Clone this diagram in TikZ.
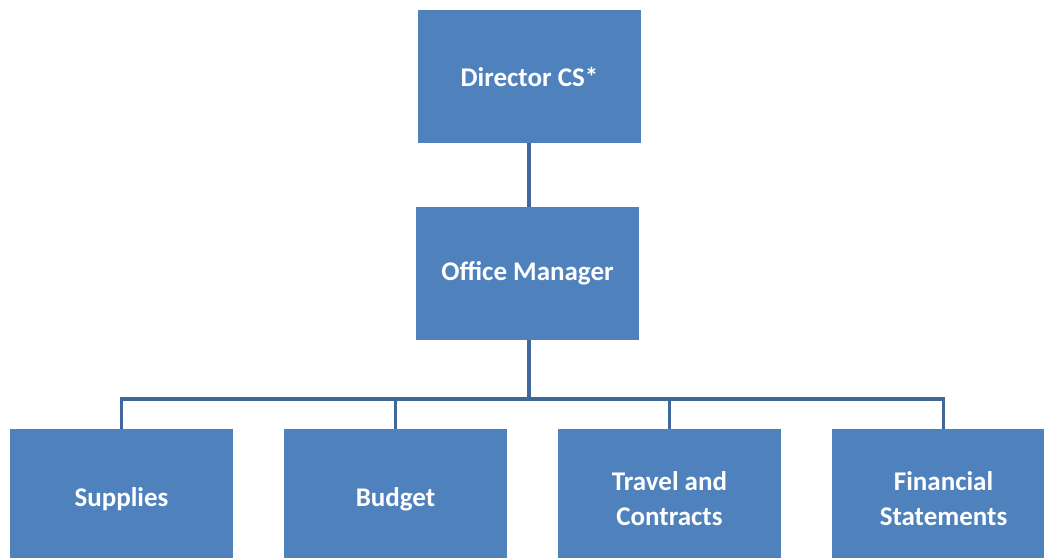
\documentclass[tikz,border=0pt]{standalone}
\usepackage{fontspec}
\setmainfont{Carlito}
\definecolor{boxblue}{HTML}{4F81BD}
\definecolor{lineblue}{HTML}{41689A}
\begin{document}
\begin{tikzpicture}[x=1pt,y=1pt,
  orgbox/.style={fill=boxblue, draw=none, minimum width=223pt, minimum height=133pt,
    text=white, font=\bfseries\fontsize{27}{35}\selectfont, align=center, inner sep=0pt},
  lowbox/.style={orgbox, minimum height=140pt},
  conn/.style={draw=lineblue, line width=3.3pt}]
\useasboundingbox (0,0) rectangle (1044,557);
\clip (0,0) rectangle (1044,557);
\node[orgbox] (dir) at (529.5,480.5) {Director CS*};
\node[orgbox] (om) at (527.5,283.5) {Office Manager};
\node[lowbox] (sup) at (121.5,58) {Supplies};
\node[lowbox] (bud) at (395.5,58) {Budget};
\node[lowbox] (tra) at (669.5,58) {Travel and\\Contracts};
\node[lowbox] (fin) at (943.5,58) {Financial\\Statements};
\coordinate (bus) at (529,158);
\draw[conn] (dir.south) ++(-0.5,0) coordinate (d1) -- (d1 |- om.north);
\draw[conn] (bus |- om.south) -- (bus);
\draw[conn] (sup.north) |- (bus) -| (fin.north);
\draw[conn] (bud.north) -- (bud.north |- bus);
\draw[conn] (tra.north) -- (tra.north |- bus);
\end{tikzpicture}
\end{document}
